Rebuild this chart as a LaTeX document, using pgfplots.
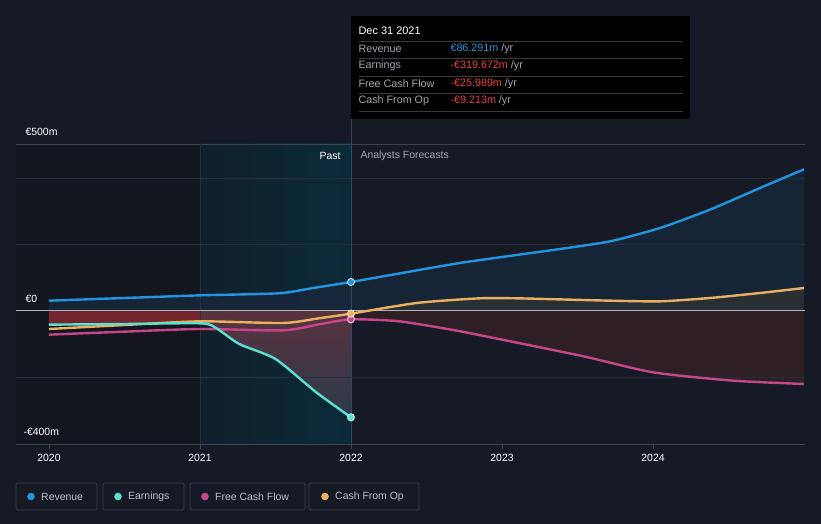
\documentclass[border=0pt]{standalone}
\usepackage{pgfplots}
\pgfplotsset{compat=1.18}
\usepackage{fontspec}
\setmainfont{Liberation Sans}
\definecolor{bg}{RGB}{21,26,36}
\definecolor{pastdark}{RGB}{19,22,30}
\definecolor{tealA}{RGB}{16,32,44}
\definecolor{tealB}{RGB}{10,42,56}
\definecolor{rev}{RGB}{35,148,223}
\definecolor{earn}{RGB}{88,224,208}
\definecolor{fcf}{RGB}{198,70,138}
\definecolor{cfo}{RGB}{232,176,96}
\definecolor{revfill}{RGB}{23,39,57}
\definecolor{cfofill}{RGB}{42,47,52}
\definecolor{fcffill}{RGB}{46,31,39}
\definecolor{earntop}{RGB}{140,42,50}
\definecolor{earnmid}{RGB}{100,52,66}
\definecolor{earnbot}{RGB}{48,60,76}
\definecolor{gridc}{RGB}{40,46,56}
\definecolor{topline}{RGB}{62,68,78}
\definecolor{zeroc}{RGB}{176,180,186}
\definecolor{txtgray}{RGB}{160,166,174}
\definecolor{neg}{RGB}{236,64,64}
\definecolor{legbox}{RGB}{58,64,74}
\definecolor{vline}{RGB}{44,74,88}
\definecolor{vline2}{RGB}{30,52,64}
\definecolor{sep}{RGB}{60,60,60}

% x = years after 1 Jan 2020
\pgfplotstableread{
x y
0.0 30
0.5 38
1.0 46
1.3 49
1.55 53
1.75 68
2.0 86
2.4 118
2.72 143
3.0 161
3.384 185
3.715 208
4.046 248
4.377 303
4.709 368
5.0 424
}\revtab

\pgfplotstableread{
x y
0.0 -42
0.5 -40
1.0 -38
1.1 -50
1.26 -100
1.5 -145
1.77 -245
2.0 -320
}\earntab

\pgfplotstableread{
x y
0.0 -42
0.5 -40
1.0 -38
}\earnA

\pgfplotstableread{
x y
1.0 -38
1.1 -50
1.26 -100
1.5 -145
1.77 -245
2.0 -320
}\earnB

\pgfplotstableread{
x y
0.0 -72
0.5 -63
1.0 -55
1.55 -59
1.8 -40
2.0 -26
2.32 -32
2.7 -60
3.0 -87
3.54 -137
4.0 -185
4.53 -210
5.0 -220
}\fcftab

\pgfplotstableread{
x y
0.0 -55
0.5 -43
1.0 -32
1.55 -37
1.8 -22
2.0 -9
2.435 23
2.85 37
3.1 37
3.45 33
3.715 30
4.046 28
4.377 38
4.709 53
5.0 68
}\cfotab

\pgfplotstableread{
x y
2.0 -26
2.32 -32
2.7 -60
3.0 -87
3.54 -137
4.0 -185
4.53 -210
5.0 -220
}\fcffore

\pgfplotstableread{
x y
2.0 -9
2.435 23
2.85 37
3.1 37
3.45 33
3.715 30
4.046 28
4.377 38
4.709 53
5.0 68
}\cfofore

\begin{document}
\begin{tikzpicture}[x=1bp,y=1bp]
\fill[bg] (0,0) rectangle (821,524);
\fill[pastdark] (16,80) rectangle (200,380);
\shade[left color=tealA,right color=tealB] (200,80) rectangle (351,380);
\begin{axis}[at={(16bp,80bp)},anchor=south west,scale only axis,
  width=789bp,height=300bp,
  xmin=-0.2185,xmax=5.007,ymin=-400,ymax=500,
  hide axis,clip=false]
% area fills
\addplot[draw=none,fill=earntop,fill opacity=0.8,smooth,tension=0.4] table {\earnA} \closedcycle;
\addplot[draw=none,top color=earnmid,bottom color=earnbot,fill opacity=0.9,smooth,tension=0.4] table {\earnB} \closedcycle;
\addplot[draw=none,fill=revfill,fill opacity=0.9,smooth,tension=0.4] table {\revtab} \closedcycle;
\addplot[draw=none,fill=cfofill,smooth,tension=0.4] table {\cfofore} \closedcycle;
\addplot[draw=none,fill=fcffill,smooth,tension=0.4] table {\fcffore} \closedcycle;
\end{axis}
% grid
\draw[gridc,line width=0.8bp] (16,346) -- (805,346);
\draw[gridc,line width=0.8bp] (16,279.5) -- (805,279.5);
\draw[gridc,line width=0.8bp] (16,147) -- (805,147);
\draw[topline,line width=0.8bp] (16,380) -- (805,380);
\draw[topline,line width=0.8bp] (16,80) -- (805,80);
\draw[vline2,line width=0.8bp] (200,80) -- (200,380);
\foreach \px in {49,200,351,502,653}{
  \draw[topline,line width=0.8bp] (\px,80) -- (\px,75);
}
\draw[zeroc,line width=1bp] (16,213.3) -- (805,213.3);
\draw[vline,line width=0.8bp] (351,80) -- (351,405);
\begin{axis}[at={(16bp,80bp)},anchor=south west,scale only axis,
  width=789bp,height=300bp,
  xmin=-0.2185,xmax=5.007,ymin=-400,ymax=500,
  hide axis,clip=false]
\addplot[fcf,line width=2.4bp,smooth,tension=0.4] table {\fcftab};
\addplot[cfo,line width=2.4bp,smooth,tension=0.4] table {\cfotab};
\addplot[earn,line width=2.4bp,smooth,tension=0.4] table {\earntab};
\addplot[rev,line width=2.4bp,smooth,tension=0.4] table {\revtab};
\addplot[only marks,mark=*,mark size=3.6,mark options={fill=fcf,draw=white!80!fcf,line width=0.8bp}] coordinates {(2,-26)};
\addplot[only marks,mark=*,mark size=3.6,mark options={fill=cfo,draw=white!80!cfo,line width=0.8bp}] coordinates {(2,-9)};
\addplot[only marks,mark=*,mark size=3.6,mark options={fill=earn,draw=white!80!earn,line width=0.8bp}] coordinates {(2,-320)};
\addplot[only marks,mark=*,mark size=3.6,mark options={fill=rev,draw=white!80!rev,line width=0.8bp}] coordinates {(2,86)};
\end{axis}
% y labels
\node[anchor=west,text=white,font=\fontsize{10.5}{12}\selectfont] at (22,392) {€500m};
\node[anchor=west,text=white,font=\fontsize{10.5}{12}\selectfont] at (22,225) {€0};
\node[anchor=west,text=white,font=\fontsize{10.5}{12}\selectfont] at (20,92) {-€400m};
% x labels
\foreach \px/\lab in {49/2020,200/2021,351/2022,502/2023,653/2024}{
  \node[text=white,font=\fontsize{10.5}{12}\selectfont] at (\px,66) {\lab};
}
% Past / forecasts
\node[anchor=east,text=white,font=\fontsize{10.5}{12}\selectfont] at (344,368) {Past};
\node[anchor=west,text=txtgray,font=\fontsize{10.5}{12}\selectfont] at (357,368) {Analysts Forecasts};
% tooltip
\fill[black] (351,405) rectangle (690,508);
\node[anchor=west,text=white,font=\fontsize{11}{12}\selectfont] at (355,493) {Dec 31 2021};
\foreach \yy in {482.5,466,448,431,413}{
  \draw[sep,line width=0.8bp] (359,\yy) -- (683,\yy);
}
\begin{scope}[font=\fontsize{10.8}{12}\selectfont]
\node[anchor=west,text=txtgray] at (355,475) {Revenue};
\node[anchor=west,text=txtgray] at (355,458) {Earnings};
\node[anchor=west,text=txtgray] at (355,440) {Free Cash Flow};
\node[anchor=west,text=txtgray] at (355,423) {Cash From Op};
\node[anchor=west] at (447,475) {\textcolor{rev}{€86.291m} \textcolor{txtgray}{/yr}};
\node[anchor=west] at (447,458) {\textcolor{neg}{-€319.672m} \textcolor{txtgray}{/yr}};
\node[anchor=west] at (447,440) {\textcolor{neg}{-€25.989m} \textcolor{txtgray}{/yr}};
\node[anchor=west] at (447,423) {\textcolor{neg}{-€9.213m} \textcolor{txtgray}{/yr}};
\end{scope}
% legend
\foreach \xa/\xb/\dx/\col/\lab in {16/97/31/rev/Revenue,103/184/118/earn/Earnings,190/305/205/fcf/Free Cash Flow,309/419/325/cfo/Cash From Op}{
  \draw[legbox,line width=0.9bp,rounded corners=1.5bp] (\xa,14) rectangle (\xb,41);
  \fill[\col] (\dx,27.5) circle (3.8);
  \node[anchor=west,text=txtgray!70!white,font=\fontsize{10.5}{12}\selectfont,inner sep=0pt] at (\dx+10,27.5) {\lab};
}
\pgfresetboundingbox
\useasboundingbox (0,0) rectangle (821,524);
\end{tikzpicture}
\end{document}
